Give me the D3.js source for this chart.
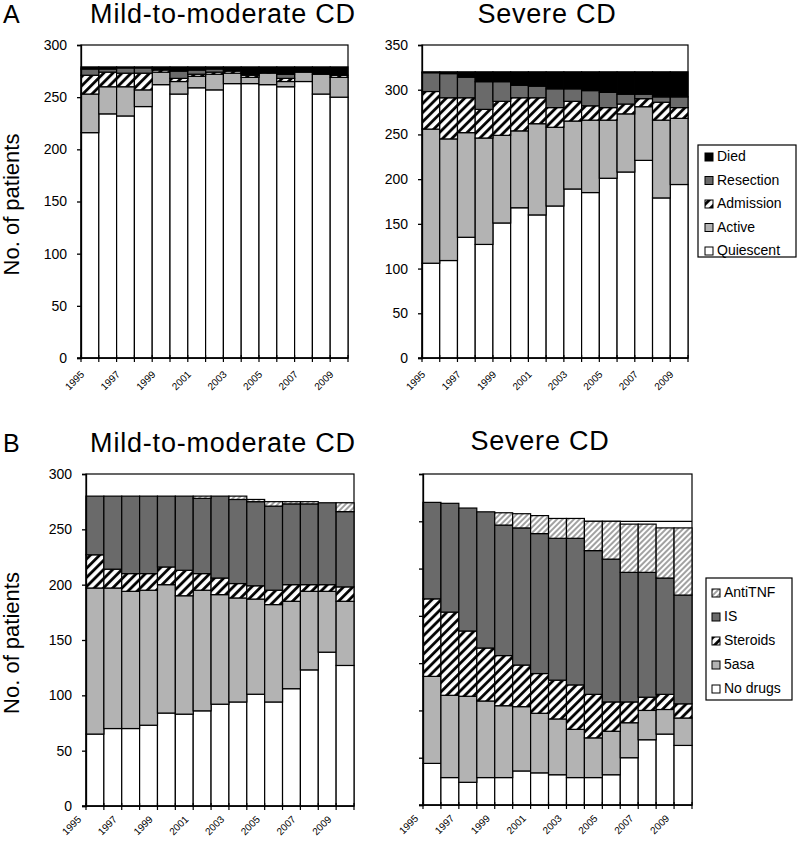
<!DOCTYPE html>
<html>
<head>
<meta charset="utf-8">
<script src="https://cdn.jsdelivr.net/npm/d3@7"></script>
<style>
  body { margin: 0; background: #fff; }
  svg { font-family: Arial, "Liberation Sans", sans-serif; }
</style>
</head>
<body>
<svg id="chart" width="799" height="853"></svg>
<script>
// years on the category axis, every other one labelled
const years = [1995, 1996, 1997, 1998, 1999, 2000, 2001, 2002, 2003, 2004, 2005, 2006, 2007, 2008, 2009];
const yearLabels = [1995, 1997, 1999, 2001, 2003, 2005, 2007, 2009];

// A: disease activity
const outcomeKeys = ["Quiescent", "Active", "Admission", "Resection", "Died"];
const mildQuiescent = [216, 234, 232, 241, 262, 253, 259, 257, 263, 263, 262, 260, 265, 253, 250];
const mildActive    = [37, 26, 28, 16, 12, 12, 11, 15, 10, 6, 11, 5, 9, 19, 19];
const mildAdmission = [18, 14, 13, 16, 2, 3, 2, 2, 2, 2, 1, 3, 0, 0, 2];
const mildResection = [6, 3, 5, 5, 1, 7, 4, 3, 0, 1, 0, 4, 0, 0, 0];
const mildDied      = [2, 2, 1, 1, 2, 4, 3, 2, 4, 7, 5, 7, 5, 7, 8];

const sevQuiescent = [106, 109, 135, 127, 151, 168, 160, 170, 189, 185, 201, 208, 221, 179, 194];
const sevActive    = [150, 136, 117, 119, 98, 86, 102, 88, 76, 81, 65, 65, 60, 87, 74];
const sevAdmission = [42, 46, 39, 32, 38, 37, 29, 22, 22, 16, 14, 11, 9, 20, 12];
const sevResection = [21, 27, 23, 31, 22, 14, 13, 21, 14, 17, 17, 11, 5, 6, 12];
const sevDied      = [1, 2, 6, 11, 11, 15, 16, 19, 19, 21, 23, 25, 25, 28, 28];

// B: drug treatment
const drugKeys = ["No drugs", "5asa", "Steroids", "IS", "AntiTNF"];
const mildNoDrugs  = [65, 70, 70, 73, 84, 83, 86, 92, 94, 101, 94, 106, 123, 139, 127];
const mild5asa     = [132, 127, 124, 122, 116, 107, 109, 99, 94, 86, 88, 79, 71, 55, 58];
const mildSteroids = [30, 17, 16, 15, 16, 23, 15, 15, 13, 12, 13, 15, 6, 6, 13];
const mildIS       = [53, 66, 70, 70, 64, 67, 68, 74, 76, 76, 76, 73, 73, 74, 68];
const mildAntiTNF  = [0, 0, 0, 0, 0, 0, 2, 0, 3, 2, 4, 2, 2, 0, 8];

const sevNoDrugs  = [44, 29, 24, 29, 29, 36, 34, 32, 29, 29, 32, 50, 69, 75, 63];
const sev5asa     = [92, 87, 91, 81, 76, 68, 63, 59, 51, 42, 46, 37, 31, 26, 29];
const sevSteroids = [82, 88, 69, 56, 53, 44, 42, 41, 47, 46, 31, 22, 14, 16, 15];
const sevIS       = [102, 115, 130, 144, 138, 145, 148, 150, 155, 152, 151, 137, 132, 123, 115];
const sevAntiTNF  = [0, 0, 0, 0, 13, 15, 19, 21, 21, 31, 40, 51, 51, 53, 71];

const LIGHT = "#b3b3b3", DARK = "#6a6a6a";
const fillOutcome = {Quiescent: "#fff", Active: LIGHT, Admission: "url(#hatch)", Resection: DARK, Died: "#000"};
const fillDrug = {"No drugs": "#fff", "5asa": LIGHT, Steroids: "url(#hatch)", IS: DARK, AntiTNF: "url(#thin)"};

const svg = d3.select("#chart");
const defs = svg.append("defs");
const hatch = defs.append("pattern").attr("id", "hatch").attr("patternUnits", "userSpaceOnUse")
  .attr("width", 6.5).attr("height", 6.5).attr("patternTransform", "rotate(45)");
hatch.append("rect").attr("width", 6.5).attr("height", 6.5).attr("fill", "#fff");
hatch.append("line").attr("x1", 1.5).attr("x2", 1.5).attr("y1", 0).attr("y2", 6.5)
  .attr("stroke", "#000").attr("stroke-width", 2.8);
const thin = defs.append("pattern").attr("id", "thin").attr("patternUnits", "userSpaceOnUse")
  .attr("width", 4).attr("height", 4).attr("patternTransform", "rotate(45)");
thin.append("rect").attr("width", 4).attr("height", 4).attr("fill", "#fff");
thin.append("line").attr("x1", 1).attr("x2", 1).attr("y1", 0).attr("y2", 4)
  .attr("stroke", "#444").attr("stroke-width", 1);

function rows(keys, series) {
  return years.map((yr, i) => {
    const r = {year: yr};
    keys.forEach((k, j) => r[k] = series[j][i]);
    return r;
  });
}

function panel(o) {
  const x = d3.scaleBand().domain(years).range([o.left, o.right]).padding(0);
  const y = d3.scaleLinear().domain([0, o.max]).range([o.bottom, o.top]);
  const g = svg.append("g");

  // plot frame
  g.append("rect").attr("x", o.left).attr("y", o.top)
    .attr("width", o.right - o.left).attr("height", o.bottom - o.top)
    .attr("fill", "#fff").attr("stroke", "#000").attr("stroke-width", 1.2);

  if (o.grid) {
    g.append("line").attr("x1", o.left).attr("x2", o.right)
      .attr("y1", y(o.grid)).attr("y2", y(o.grid)).attr("stroke", "#000").attr("stroke-width", 1.2);
  }

  const stacked = d3.stack().keys(o.keys)(rows(o.keys, o.series));
  g.append("g").selectAll("g").data(stacked).join("g")
    .attr("fill", d => o.fills[d.key])
    .selectAll("rect").data(d => d).join("rect")
    .attr("x", d => x(d.data.year))
    .attr("width", x.bandwidth())
    .attr("y", d => y(d[1]))
    .attr("height", d => y(d[0]) - y(d[1]))
    .attr("stroke", "#000").attr("stroke-width", 1.2);

  // y axis
  const ya = g.append("g").attr("transform", `translate(${o.left},0)`)
    .call(d3.axisLeft(y).tickValues(d3.range(0, o.max + 1, 50)).tickSize(4).tickPadding(10)
      .tickFormat(o.noLabels ? "" : d3.format("d")));
  ya.select(".domain").attr("stroke-width", 1.3);
  ya.selectAll("line").attr("stroke-width", 1.3);
  ya.selectAll("text").attr("font-size", 14).attr("fill", "#000");

  // x axis with ticks on bar boundaries
  g.append("line").attr("x1", o.left - 4).attr("x2", o.right).attr("y1", o.bottom).attr("y2", o.bottom)
    .attr("stroke", "#000").attr("stroke-width", 1.3);
  g.append("g").selectAll("line").data(years.concat([null])).join("line")
    .attr("x1", d => d === null ? o.right : x(d)).attr("x2", d => d === null ? o.right : x(d))
    .attr("y1", o.bottom - 3).attr("y2", o.bottom + 4)
    .attr("stroke", "#000").attr("stroke-width", 1.2);
  g.append("g").selectAll("text").data(yearLabels).join("text")
    .attr("transform", d => `translate(${x(d) + o.labDx},${o.bottom + o.labDy}) rotate(-45)`)
    .attr("text-anchor", "end").attr("font-size", 10).attr("dy", "0.35em")
    .text(d => d);

  // titles
  svg.append("text").attr("x", o.titleX).attr("y", o.titleY).attr("text-anchor", "middle")
    .attr("font-size", 27).attr("letter-spacing", 0.8).text(o.title);
  if (o.letter) {
    svg.append("text").attr("x", 3).attr("y", o.titleY).attr("font-size", 25).text(o.letter);
  }
  if (o.ylabel) {
    svg.append("text").attr("transform", `translate(19,${(o.top + o.bottom) / 2 + 3}) rotate(-90)`)
      .attr("text-anchor", "middle").attr("font-size", 22).text("No. of patients");
  }

  if (o.legend) {
    const L = o.legend;
    const lg = svg.append("g").attr("transform", `translate(${L.x},${L.y})`);
    lg.append("rect").attr("width", L.w).attr("height", L.h)
      .attr("fill", "#fff").attr("stroke", "#000").attr("stroke-width", 1.2);
    const items = o.keys.slice().reverse();
    items.forEach((k, i) => {
      const cy = L.first + i * L.step;
      lg.append("rect").attr("x", L.mx).attr("y", cy - 8).attr("width", 8).attr("height", 8)
        .attr("fill", o.fills[k]).attr("stroke", "#000").attr("stroke-width", 1);
      lg.append("text").attr("x", L.mx + 12).attr("y", cy).attr("font-size", 14).text(k);
    });
  }
}

panel({left: 81, right: 348, top: 45, bottom: 358, max: 300,
  keys: outcomeKeys, fills: fillOutcome,
  series: [mildQuiescent, mildActive, mildAdmission, mildResection, mildDied],
  title: "Mild-to-moderate CD", titleX: 223, titleY: 23, letter: "A", ylabel: true,
  labDx: 1.5, labDy: 14.5});

panel({left: 422, right: 688, top: 45, bottom: 358, max: 350,
  keys: outcomeKeys, fills: fillOutcome,
  series: [sevQuiescent, sevActive, sevAdmission, sevResection, sevDied],
  title: "Severe CD", titleX: 547, titleY: 23,
  labDx: 1.5, labDy: 14.5,
  legend: {x: 698, y: 145, w: 98, h: 112, first: 16, step: 23.5, mx: 7}});

panel({left: 86, right: 354, top: 474, bottom: 806, max: 300,
  keys: drugKeys, fills: fillDrug,
  series: [mildNoDrugs, mild5asa, mildSteroids, mildIS, mildAntiTNF],
  title: "Mild-to-moderate CD", titleX: 223, titleY: 452, letter: "B", ylabel: true,
  labDx: -6.5, labDy: 11.5});

panel({left: 423, right: 692, top: 474, bottom: 805, max: 350, noLabels: true, grid: 300,
  keys: drugKeys, fills: fillDrug,
  series: [sevNoDrugs, sev5asa, sevSteroids, sevIS, sevAntiTNF],
  title: "Severe CD", titleX: 540, titleY: 450,
  labDx: -6.5, labDy: 11.5,
  legend: {x: 706, y: 578, w: 86, h: 122, first: 19, step: 24, mx: 6}});
</script>
</body>
</html>
